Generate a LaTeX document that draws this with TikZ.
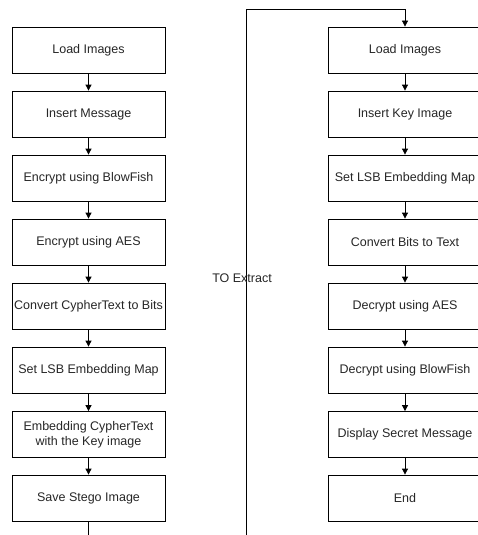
\documentclass[tikz,border=0pt]{standalone}
\usepackage{fontspec}
\setmainfont{Liberation Sans}
\usepackage{tikz}
\usetikzlibrary{arrows.meta,positioning,calc}

\tikzset{
  stepbox/.style={draw,line width=0.8pt,minimum width=153pt,minimum height=46pt,
    align=center,inner sep=1pt,font=\fontsize{12.5}{15}\selectfont,text=black!85},
  flow/.style={line width=0.8pt,-{Triangle[length=6pt,width=6pt]}},
  link/.style={line width=0.8pt}
}

\begin{document}
\begin{tikzpicture}[x=1pt,y=-1pt]
  \useasboundingbox (0,0) rectangle (478,535);

  % embedding side
  \node[stepbox] (loadA) at (88.5,50) {Load Images};
  \node[stepbox] (msg) at (88.5,114) {Insert Message};
  \node[stepbox] (blowA) at (88.5,178) {Encrypt using BlowFish};
  \node[stepbox] (aesA) at (88.5,242) {Encrypt using AES};
  \node[stepbox] (bits) at (88.5,306) {Convert CypherText to Bits};
  \node[stepbox] (mapA) at (88.5,370) {Set LSB Embedding Map};
  \node[stepbox] (embed) at (88.5,434.5) {Embedding CypherText\\with the Key image};
  \node[stepbox] (save) at (88.5,498) {Save Stego Image};

  \draw[flow] (loadA) -- (msg);
  \draw[flow] (msg) -- (blowA);
  \draw[flow] (blowA) -- (aesA);
  \draw[flow] (aesA) -- (bits);
  \draw[flow] (bits) -- (mapA);
  \draw[flow] (mapA) -- (embed);
  \draw[flow] (embed) -- (save);

  % extracting side
  \node[stepbox] (loadB) at (405,50) {Load Images};
  \node[stepbox] (key) at (405,114) {Insert Key Image};
  \node[stepbox] (mapB) at (405,178) {Set LSB Embedding Map};
  \node[stepbox] (text) at (405,242) {Convert Bits to Text};
  \node[stepbox] (aesB) at (405,306) {Decrypt using AES};
  \node[stepbox] (blowB) at (405,370) {Decrypt using BlowFish};
  \node[stepbox] (show) at (405,434.5) {Display Secret Message};
  \node[stepbox] (end) at (405,498) {End};

  \draw[flow] (loadB) -- (key);
  \draw[flow] (key) -- (mapB);
  \draw[flow] (mapB) -- (text);
  \draw[flow] (text) -- (aesB);
  \draw[flow] (aesB) -- (blowB);
  \draw[flow] (blowB) -- (show);
  \draw[flow] (show) -- (end);

  % jump to extract
  \coordinate (saveEnd) at (88.5,536);
  \coordinate (jumpBot) at (246,536);
  \coordinate (jumpTop) at (246,9);
  \draw[link] (save) -- (saveEnd);
  \draw[flow] (jumpBot) -- (jumpTop) -| (loadB);
  \node[font=\fontsize{12.5}{15}\selectfont,text=black!85] (toext) at (242,278) {TO Extract};

\end{tikzpicture}
\end{document}
